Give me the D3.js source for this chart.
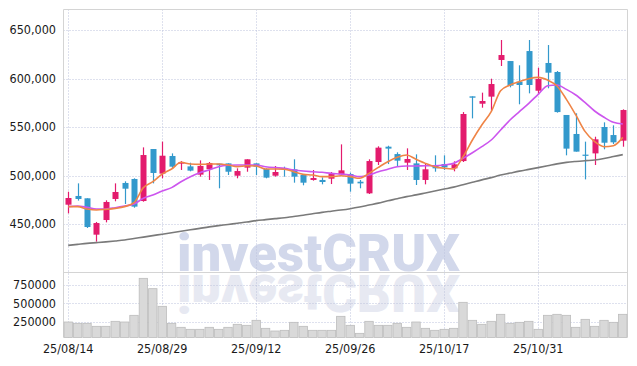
<!DOCTYPE html>
<html><head><meta charset="utf-8">
<script src="https://cdn.jsdelivr.net/npm/d3@7"></script>
<style>body{margin:0;background:#fff}svg{display:block}</style>
</head><body>
<script>
const dates = ["25/08/14","25/08/18","25/08/19","25/08/20","25/08/21","25/08/22","25/08/25","25/08/26","25/08/27","25/08/28","25/08/29",
"25/09/01","25/09/02","25/09/03","25/09/04","25/09/05","25/09/08","25/09/09","25/09/10","25/09/11","25/09/12",
"25/09/15","25/09/16","25/09/17","25/09/18","25/09/19","25/09/22","25/09/23","25/09/24","25/09/25","25/09/26",
"25/09/29","25/09/30","25/10/01","25/10/02","25/10/10","25/10/13","25/10/14","25/10/15","25/10/16","25/10/17",
"25/10/20","25/10/21","25/10/22","25/10/23","25/10/24","25/10/27","25/10/28","25/10/29","25/10/30","25/10/31",
"25/11/03","25/11/04","25/11/05","25/11/06","25/11/07","25/11/10","25/11/11","25/11/12","25/11/13"];
const xTickLabels = ["25/08/14","25/08/29","25/09/12","25/09/26","25/10/17","25/10/31"];
const opens = [469900,478900,476500,439000,454100,475800,492300,496400,473700,527300,501900,520100,512200,509400,500900,506400,512200,512500,499800,508100,512500,506700,499800,507400,506400,500500,495400,495400,496700,501200,501500,493600,481600,513900,529700,522100,513200,512500,495400,510500,511800,507400,514900,581600,574000,581300,619100,618000,596700,628300,587400,616000,606700,562400,542800,521500,522800,550000,541700,535900];
const highs = [483300,491900,476500,452100,474400,491900,494000,497100,529000,527300,534900,522800,514900,513200,515600,513900,512200,512500,507400,516700,512500,507400,509800,509100,516700,501500,505700,498100,503600,532100,502900,495400,516700,530100,530700,523900,528000,521800,512500,520800,520800,514600,565400,581600,585400,599800,639700,618000,613600,639700,611100,634500,607700,562400,564100,534900,540000,554800,551700,568200];
const lows = [461000,474100,445900,431800,451700,473400,470600,466800,473000,491900,497100,507400,505700,504300,498800,495400,486800,500500,497100,503900,500500,497100,498800,498800,492600,489900,494700,490900,491200,500200,483300,486800,480900,510800,511800,509100,505700,490200,490900,503900,505700,504300,513900,558900,569900,566800,612900,590900,573400,584700,583000,589900,564800,520800,524600,496000,510800,527000,532500,529700];
const closes = [476800,475800,446900,451000,472700,483000,486400,467900,521100,502600,520400,509100,513900,505000,509800,512900,510500,503900,504600,516700,509100,497800,503600,506700,498800,492600,497400,493300,501500,505300,491600,491900,514900,528700,527700,515300,517000,495400,506400,507400,508400,511500,563400,580200,576800,594300,624200,592600,593300,593300,599500,606000,565400,527700,524600,520400,537300,533800,534200,567500];
const ma5 = [467900,467900,465500,464400,465100,466100,467900,472000,487500,493600,501500,506700,513600,511800,511500,511800,511800,510800,509100,510100,509800,506700,506700,506400,503900,501200,500500,498800,498800,499800,498800,497100,502200,508400,514200,518700,521100,516700,512500,509100,507400,506700,519400,536600,552000,565800,587400,593300,596700,599800,601200,598400,592300,578500,562400,545200,534900,529700,530700,539300];
const ma10 = [467900,468500,467200,465500,465500,466800,468500,470600,476500,479900,484000,487500,493600,498800,502900,505700,509100,510500,510800,510800,510800,509100,508100,507400,505700,504600,503900,503300,502200,501500,500500,498800,500500,503900,506400,509100,509800,509800,510100,510100,510800,512500,517700,523500,529700,536600,546900,557200,565800,574400,583700,592600,593300,588800,583000,575100,566500,560000,554800,553100];
const maLong = [428000,429000,430000,430800,431600,432500,433500,435000,436500,438000,439500,441000,442500,444000,445500,447000,448300,449500,450800,452000,453500,454500,455500,456500,457800,459000,460500,462000,463200,464400,465800,467500,469500,471500,474000,476000,478200,480000,482000,484000,486000,488000,490500,493000,495500,497800,500500,502500,504500,506300,508100,510000,512000,513500,514500,515300,516000,517500,519500,521500];
const volumes = [245500,227400,227400,186400,186400,254600,245500,336400,840900,700000,459200,227400,172800,145500,145500,172800,145500,172800,213700,200100,268200,159200,122800,131900,241000,186400,131900,131900,131900,322800,200100,90900,254600,200100,200100,227400,172800,245500,159200,131900,145500,159200,513700,268200,213700,254600,350000,227400,241000,254600,145500,336400,350000,336400,172800,281800,186400,268200,241000,350000];
const priceTicks = [450000,500000,550000,600000,650000];
const volTicks = [250000,500000,750000];

const W = 637, H = 366;
const L = 63.5, R = 627.5, T = 9.5, SEP = 272.5, VB = 337.5;
const UP = "#e31b6d", DOWN = "#3399cc";
const GRID = "#bcc3dc";
const font = "'DejaVu Sans Condensed','DejaVu Sans',sans-serif";

const svg = d3.select("body").append("svg").attr("width", W).attr("height", H);

const x = d3.scaleBand().domain(dates).range([L, R]).paddingInner(0).paddingOuter(0);
const cx = d => x(d) + x.bandwidth() / 2;
const y = d3.scaleLinear().domain([450000, 650000]).range([224, 30]);
const yv = d3.scaleLinear().domain([0, 750000]).range([340, 285]);

// watermark with reflection
const wmFont = "Roboto,'Liberation Sans',Arial,sans-serif";
const wm = svg.append("g");
wm.append("text").attr("x", 177).attr("y", 270.5).text("investCRUX")
  .attr("font-family", wmFont).attr("font-weight", 900)
  .attr("font-size", 52).attr("textLength", 283).attr("lengthAdjust", "spacingAndGlyphs")
  .attr("fill", "#d2d8eb");
wm.append("g").attr("transform", "translate(0,545.5) scale(1,-1)")
  .append("text").attr("x", 177).attr("y", 270.5).text("investCRUX")
  .attr("font-family", wmFont).attr("font-weight", 900)
  .attr("font-size", 52).attr("textLength", 283).attr("lengthAdjust", "spacingAndGlyphs")
  .attr("fill", "#e7e9f2");

// grid
const grid = svg.append("g").attr("stroke", GRID).attr("stroke-dasharray", "1,2").attr("stroke-width", 1);
grid.selectAll(".hp").data(priceTicks).join("line")
  .attr("x1", L).attr("x2", R).attr("y1", d => Math.round(y(d)) + 0.5).attr("y2", d => Math.round(y(d)) + 0.5);
grid.selectAll(".hv").data(volTicks).join("line").attr("class", "hv")
  .attr("x1", L).attr("x2", R).attr("y1", d => Math.round(yv(d)) + 0.5).attr("y2", d => Math.round(yv(d)) + 0.5);
grid.selectAll(".vx").data(xTickLabels).join("line").attr("class", "vx")
  .attr("x1", d => Math.round(cx(d)) + 0.5).attr("x2", d => Math.round(cx(d)) + 0.5).attr("y1", T).attr("y2", VB);

// frame
const frame = svg.append("g").attr("stroke", "#d4d4d4").attr("stroke-width", 1);
frame.append("line").attr("x1", L).attr("x2", R).attr("y1", T).attr("y2", T);
frame.append("line").attr("x1", L).attr("x2", L).attr("y1", T).attr("y2", VB);
frame.append("line").attr("x1", R).attr("x2", R).attr("y1", T).attr("y2", VB);
frame.append("line").attr("x1", L).attr("x2", R).attr("y1", SEP).attr("y2", SEP);

// volume bars
svg.append("g").selectAll("rect").data(dates).join("rect")
  .attr("x", d => x(d) + 0.5).attr("width", x.bandwidth() - 1)
  .attr("y", (d, i) => yv(volumes[i])).attr("height", (d, i) => VB - yv(volumes[i]))
  .attr("fill", "#d9d9d9").attr("stroke", "#bcbcbc").attr("stroke-width", 0.8);

// candles
const cg = svg.append("g");
dates.forEach((d, i) => {
  const col = closes[i] >= opens[i] ? UP : DOWN;
  const c = Math.round(cx(d)) + 0.5;
  cg.append("line").attr("x1", c).attr("x2", c).attr("y1", y(highs[i])).attr("y2", y(lows[i]))
    .attr("stroke", col).attr("stroke-width", 1.2);
  const top = y(Math.max(opens[i], closes[i])), bot = y(Math.min(opens[i], closes[i]));
  cg.append("rect").attr("x", c - 3).attr("width", 6).attr("y", top).attr("height", Math.max(1.2, bot - top))
    .attr("fill", col);
});

// moving averages
const line = arr => d3.line().x((v, i) => cx(dates[i])).y(v => y(v)).curve(d3.curveMonotoneX)(arr);
svg.append("path").attr("d", line(maLong)).attr("fill", "none").attr("stroke", "#7a7a7a").attr("stroke-width", 1.6);
svg.append("path").attr("d", line(ma10)).attr("fill", "none").attr("stroke", "#cc55ee").attr("stroke-width", 1.6);
svg.append("path").attr("d", line(ma5)).attr("fill", "none").attr("stroke", "#ef8446").attr("stroke-width", 1.6);

// axes labels
const lab = svg.append("g").attr("font-family", font).attr("font-size", 12.5).attr("fill", "#1a1a1a");
lab.selectAll(".pl").data(priceTicks).join("text").attr("x", 56).attr("y", d => y(d)).attr("dy", "0.35em")
  .attr("text-anchor", "end").text(d => d3.format(",")(d));
lab.selectAll(".vl").data(volTicks).join("text").attr("class", "vl").attr("x", 56).attr("y", d => yv(d)).attr("dy", "0.35em")
  .attr("text-anchor", "end").text(d => d);
lab.selectAll(".xl").data(xTickLabels).join("text").attr("class", "xl").attr("x", d => cx(d)).attr("y", 353)
  .attr("text-anchor", "middle").text(d => d);
</script>
</body></html>
